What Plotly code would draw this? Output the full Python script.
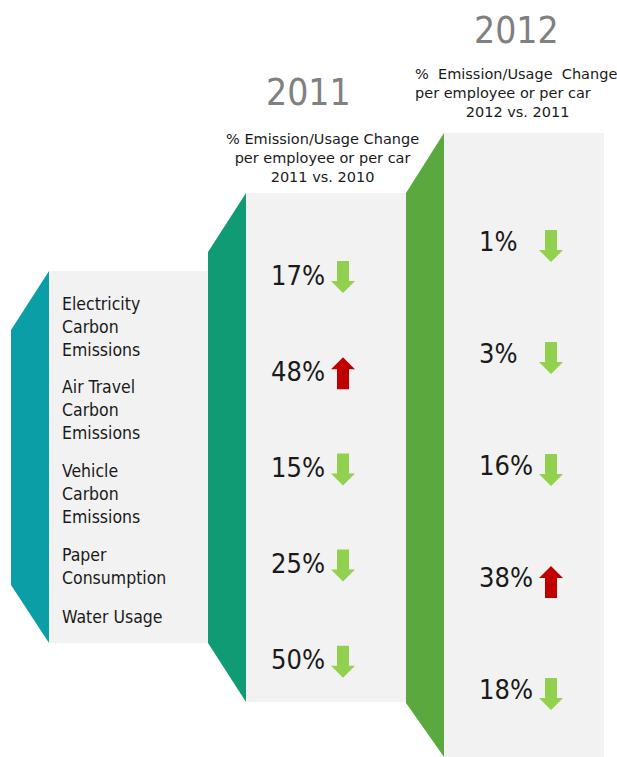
import plotly.graph_objects as go

# ---- data -------------------------------------------------------------
categories = [
    "Electricity<br>Carbon<br>Emissions",
    "Air Travel<br>Carbon<br>Emissions",
    "Vehicle<br>Carbon<br>Emissions",
    "Paper<br>Consumption",
    "Water Usage",
]
change_2011 = [17, 48, 15, 25, 50]
direction_2011 = ["down", "up", "down", "down", "down"]
change_2012 = [1, 3, 16, 38, 18]
direction_2012 = ["down", "down", "down", "up", "down"]

year_titles = ["2011", "2012"]
subtitle_2011 = "% Emission/Usage Change<br>per employee or per car<br>2011 vs. 2010"
subtitle_2012 = ("%\u00a0\u00a0Emission/Usage\u00a0\u00a0Change<br>per employee or per car<br>"
                 "\u00a0\u00a0\u00a0\u00a0\u00a0\u00a0\u00a0\u00a0\u00a0\u00a0\u00a02012 vs. 2011")

# ---- styling ----------------------------------------------------------
W, H = 617, 757
FONT = "DejaVu Sans Condensed, DejaVu Sans, sans-serif"
FONT_SUB = "DejaVu Sans, sans-serif"
TEXT = "#1a1a1a"
PANEL = "#f2f2f2"
TEAL = "#0c9ea6"
MID_GREEN = "#119b74"
GREEN = "#5aa83e"
DOWN_COL = "#92d050"
UP_COL = "#c00000"
YEAR_COL = "#808080"

fig = go.Figure()
shapes = []
annotations = []


def poly(pts, color):
    path = "M " + " L ".join(f"{x},{y}" for x, y in pts) + " Z"
    return dict(type="path", path=path, fillcolor=color, line=dict(width=0),
                xref="x", yref="y", layer="below")


# category panel
shapes.append(poly([(49, 271), (208, 271), (208, 643), (49, 643)], PANEL))
shapes.append(poly([(11, 330), (49, 271), (49, 643), (11, 585)], TEAL))
# 2011 panel
shapes.append(poly([(246, 193), (406, 193), (406, 702), (246, 702)], PANEL))
shapes.append(poly([(208, 252), (246, 193), (246, 702), (208, 643)], MID_GREEN))
# 2012 panel
shapes.append(poly([(444, 133), (604, 133), (604, 757), (444, 757)], PANEL))
shapes.append(poly([(406, 193), (444, 133), (444, 757), (406, 703)], GREEN))


def arrow(cx, cy, direction):
    h, w, sw, hh = 32, 24, 12, 12
    top, bot = cy - h / 2, cy + h / 2
    if direction == "down":
        hs = bot - hh
        pts = [(cx - sw / 2, top), (cx + sw / 2, top), (cx + sw / 2, hs),
               (cx + w / 2, hs), (cx, bot), (cx - w / 2, hs), (cx - sw / 2, hs)]
        col = DOWN_COL
    else:
        hs = top + hh
        pts = [(cx - sw / 2, bot), (cx + sw / 2, bot), (cx + sw / 2, hs),
               (cx + w / 2, hs), (cx, top), (cx - w / 2, hs), (cx - sw / 2, hs)]
        col = UP_COL
    d = poly(pts, col)
    d["layer"] = "above"
    return d


# category labels, stacked with a fixed gap between blocks
line_h = 22.6
gap = 16
cursor = 304
for cat in categories:
    n = cat.count("<br>") + 1
    center = cursor + (n - 1) * line_h / 2
    annotations.append(dict(x=60, y=center, text=cat, xanchor="left", yanchor="middle",
                            align="left", showarrow=False,
                            font=dict(family=FONT, size=17.5, color=TEXT)))
    cursor += n * line_h + gap

# year columns
columns = [
    dict(values=change_2011, dirs=direction_2011, x_text=269, x_arrow=343,
         y0=275, step=96.2, off=2),
    dict(values=change_2012, dirs=direction_2012, x_text=477, x_arrow=551,
         y0=241, step=112, off=5),
]
for col in columns:
    for i, (v, d) in enumerate(zip(col["values"], col["dirs"])):
        yc = col["y0"] + i * col["step"]
        annotations.append(dict(x=col["x_text"], y=yc, text=f"{v}%", xanchor="left",
                                yanchor="middle", showarrow=False,
                                font=dict(family=FONT, size=27, color=TEXT)))
        shapes.append(arrow(col["x_arrow"], yc + col["off"], d))

# headers
annotations.append(dict(x=308, y=92, text=year_titles[0], showarrow=False,
                        xanchor="center", yanchor="middle",
                        font=dict(family=FONT, size=37, color=YEAR_COL)))
annotations.append(dict(x=516, y=30, text=year_titles[1], showarrow=False,
                        xanchor="center", yanchor="middle",
                        font=dict(family=FONT, size=37, color=YEAR_COL)))
annotations.append(dict(x=322, y=158, text=subtitle_2011, showarrow=False,
                        xanchor="center", yanchor="middle", align="center",
                        font=dict(family=FONT_SUB, size=14.5, color=TEXT)))
annotations.append(dict(x=413, y=93, text=subtitle_2012, showarrow=False,
                        xanchor="left", yanchor="middle", align="left",
                        font=dict(family=FONT_SUB, size=14.5, color=TEXT)))

fig.update_layout(
    width=W, height=H, autosize=False,
    margin=dict(l=0, r=0, t=0, b=0, pad=0),
    paper_bgcolor="white", plot_bgcolor="white",
    xaxis=dict(range=[0, W], visible=False, fixedrange=True),
    yaxis=dict(range=[H, 0], visible=False, fixedrange=True),
    shapes=shapes, annotations=annotations, showlegend=False,
)

fig.write_html("out.html", config={"displayModeBar": False})
